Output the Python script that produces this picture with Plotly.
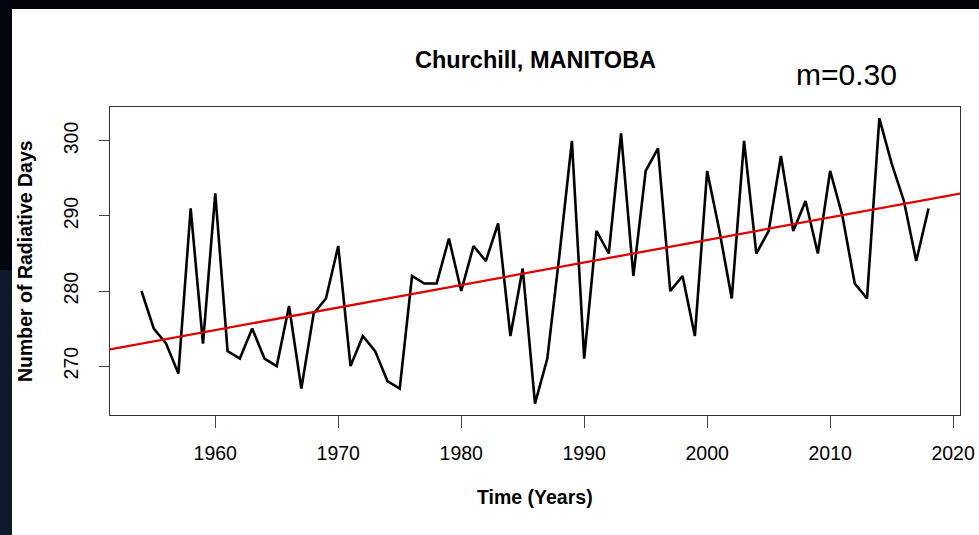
import numpy as np
import plotly.graph_objects as go

# ---- data ----
years = list(range(1954, 2019))
radiative_days = [
    280, 275, 273, 269, 291, 273, 293, 272, 271, 275,   # 1954-1963
    271, 270, 278, 267, 277, 279, 286, 270, 274, 272,   # 1964-1973
    268, 267, 282, 281, 281, 287, 280, 286, 284, 289,   # 1974-1983
    274, 283, 265, 271, 285, 300, 271, 288, 285, 301,   # 1984-1993
    282, 296, 299, 280, 282, 274, 296, 288, 279, 300,   # 1994-2003
    285, 288, 298, 288, 292, 285, 296, 290, 281, 279,   # 2004-2013
    303, 297, 292, 284, 291,                            # 2014-2018
]
x_ticks = [1960, 1970, 1980, 1990, 2000, 2010, 2020]
y_ticks = [270, 280, 290, 300]
title_text = "Churchill, MANITOBA"
x_label = "Time (Years)"
y_label = "Number of Radiative Days"
slope_label = "m=0.30"

# R-style axis ranges (4% extension of data range)
xmin, xmax = min(years), max(years)
ymin, ymax = min(radiative_days), max(radiative_days)
xr = [xmin - 0.04 * (xmax - xmin), xmax + 0.04 * (xmax - xmin)]
yr = [ymin - 0.04 * (ymax - ymin), ymax + 0.04 * (ymax - ymin)]

# least-squares trend line (abline across full plot)
m, b = np.polyfit(years, radiative_days, 1)
trend_x = xr
trend_y = [m * v + b for v in xr]

W, H = 979, 535
L, R, T, B = 110, 19, 107, 120
pw, ph = W - L - R, H - T - B


def px(xp):
    return (xp - L) / pw


def py(yp):
    return (H - B - yp) / ph


fig = go.Figure()
fig.add_trace(go.Scatter(x=years, y=radiative_days, mode="lines",
                         line=dict(color="#000000", width=2.6),
                         hoverinfo="skip", showlegend=False))
fig.add_trace(go.Scatter(x=trend_x, y=trend_y, mode="lines",
                         line=dict(color="#dd0000", width=2.3),
                         hoverinfo="skip", showlegend=False))

font_family = "Liberation Sans, Arial, sans-serif"

fig.update_layout(
    width=W, height=H,
    margin=dict(l=L, r=R, t=T, b=B, pad=0, autoexpand=False),
    paper_bgcolor="white", plot_bgcolor="white",
    font=dict(family=font_family, color="#000000"),
    showlegend=False,
    xaxis=dict(range=xr, tickvals=x_ticks, ticks="outside", ticklen=12,
               tickcolor="#444444", tickwidth=1.2, showgrid=False, zeroline=False,
               showline=True, linecolor="#333333", linewidth=1.2, mirror=True,
               automargin=False,
               tickfont=dict(size=19.5, color="#000000"), ticklabelstandoff=8),
    yaxis=dict(range=yr, tickvals=y_ticks, ticks="outside", ticklen=10,
               tickcolor="#444444", tickwidth=1.2, showgrid=False, zeroline=False,
               showline=True, linecolor="#333333", linewidth=1.2, mirror=True,
               automargin=False,
               tickangle=-90, tickfont=dict(size=19.5, color="#000000"),
               ticklabelstandoff=13),
    shapes=[
        dict(type="rect", xref="paper", yref="paper", layer="above",
             x0=px(0), x1=px(W), y0=py(9), y1=py(0),
             fillcolor="#03050a", line=dict(width=0)),
        dict(type="rect", xref="paper", yref="paper", layer="above",
             x0=px(0), x1=px(12), y0=py(270), y1=py(0),
             fillcolor="#03060c", line=dict(width=0)),
        dict(type="rect", xref="paper", yref="paper", layer="above",
             x0=px(0), x1=px(12), y0=py(H), y1=py(270),
             fillcolor="#0e1a2c", line=dict(width=0)),
    ],
    annotations=[
        dict(text=f"<b>{title_text}</b>", xref="paper", yref="paper",
             x=px(535), y=py(60), xanchor="center", yanchor="middle",
             showarrow=False, font=dict(size=23.5, color="#000000")),
        dict(text=f"<b>{x_label}</b>", xref="paper", yref="paper",
             x=px(535), y=py(497), xanchor="center", yanchor="middle",
             showarrow=False, font=dict(size=19.5, color="#000000")),
        dict(text=f"<b>{y_label}</b>", xref="paper", yref="paper",
             x=px(25), y=py(261), xanchor="center", yanchor="middle",
             textangle=-90, showarrow=False, font=dict(size=19.5, color="#000000")),
        dict(text=slope_label, xref="paper", yref="paper",
             x=px(846), y=py(75), xanchor="center", yanchor="middle",
             showarrow=False, font=dict(size=30, color="#000000")),
    ],
)

fig.write_html("out.html", config={"displayModeBar": False},
               post_script="document.body.style.margin='0';document.body.style.padding='0';")
